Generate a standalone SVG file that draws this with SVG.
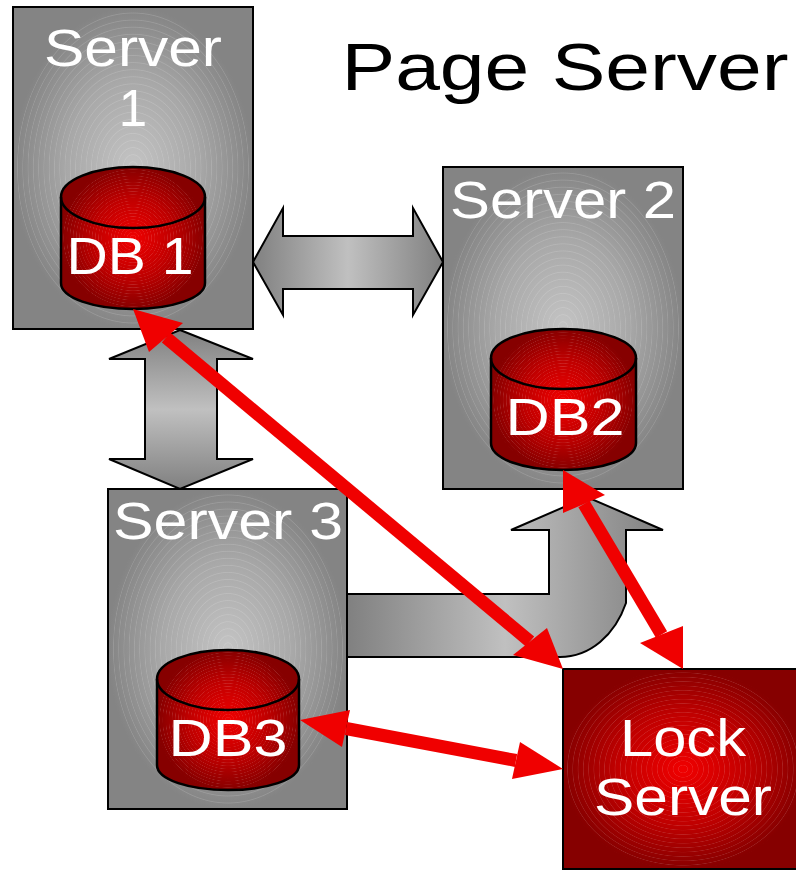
<svg xmlns="http://www.w3.org/2000/svg" width="796" height="870" viewBox="0 0 796 870">
<style>
text{font-family:"Liberation Sans",Arial,sans-serif;fill:#fff;text-anchor:middle;font-size:51px}
#title{fill:#000;font-size:66px}
.box,.arrow{stroke:#000;stroke-width:2}
.box{fill:url(#grayBox)}
.lock{fill:url(#redBox)}
.cyl{fill:url(#redBox);stroke:#000;stroke-width:2.5}
.rings{fill:url(#rings);stroke:none}
.lid{fill:none;stroke:#000;stroke-width:2.5}
.red{stroke:#f00000;stroke-width:13;fill:none}
.head{fill:#f00000}
</style>
<defs>
<radialGradient id="grayBox"><stop offset="0" stop-color="#c4c4c4"/><stop offset=".55" stop-color="#a8a8a8"/><stop offset="1" stop-color="#848484"/></radialGradient>
<radialGradient id="redBox"><stop offset="0" stop-color="#f00000"/><stop offset=".55" stop-color="#c00000"/><stop offset="1" stop-color="#860000"/></radialGradient>
<radialGradient id="rings" r=".022" spreadMethod="repeat"><stop offset=".75" stop-color="#fff" stop-opacity="0"/><stop offset=".88" stop-color="#fff" stop-opacity=".14"/><stop offset="1" stop-color="#fff" stop-opacity="0"/></radialGradient>
<linearGradient id="hArrow"><stop offset="0" stop-color="#808080"/><stop offset=".5" stop-color="#c0c0c0"/><stop offset="1" stop-color="#808080"/></linearGradient>
<linearGradient id="vArrow" x1="0" y1="0" x2="0" y2="1"><stop offset="0" stop-color="#808080"/><stop offset=".5" stop-color="#c0c0c0"/><stop offset="1" stop-color="#808080"/></linearGradient>
</defs>

<g id="server1">
<rect class="box" x="13" y="7" width="240" height="322"/><ellipse class="rings" cx="133" cy="168" rx="120" ry="161"/>
<text x="133" y="66" textLength="178" lengthAdjust="spacingAndGlyphs">Server</text>
<text x="133" y="126">1</text>
</g>
<g id="db1">
<path class="cyl" d="M61 197C61 180 94 167 133 167S205 180 205 197V283C205 298 172 309 133 309S61 298 61 283Z"/>
<ellipse class="rings" cx="133" cy="238" rx="72" ry="71"/>
<path class="lid" d="M61 197C61 214 94 228 133 228S205 214 205 197"/>
<text x="130" y="274" textLength="127" lengthAdjust="spacingAndGlyphs">DB 1</text>
</g>

<g id="server2">
<rect class="box" x="443" y="167" width="240" height="322"/><ellipse class="rings" cx="563" cy="328" rx="120" ry="161"/>
<text x="563" y="218" textLength="226" lengthAdjust="spacingAndGlyphs">Server 2</text>
</g>
<g id="db2">
<path class="cyl" d="M491 358C491 341 524 329 563 329S636 341 636 358V443C636 459 602 470 563 470S491 459 491 443Z"/>
<ellipse class="rings" cx="563" cy="400" rx="72" ry="70"/>
<path class="lid" d="M491 358C491 375 524 389 563 389S636 375 636 358"/>
<text x="565" y="435" textLength="119" lengthAdjust="spacingAndGlyphs">DB2</text>
</g>

<g id="server3">
<rect class="box" x="108" y="489" width="239" height="320"/><ellipse class="rings" cx="228" cy="649" rx="119" ry="160"/>
<text x="228" y="539" textLength="230" lengthAdjust="spacingAndGlyphs">Server 3</text>
</g>
<g id="db3">
<path class="cyl" d="M157 679C157 662 190 650 228 650S299 662 299 679V765C299 780 266 790 228 790S157 780 157 765Z"/>
<ellipse class="rings" cx="228" cy="720" rx="71" ry="70"/>
<path class="lid" d="M157 679C157 696 190 710 228 710S299 696 299 679"/>
<text x="228" y="756" textLength="119" lengthAdjust="spacingAndGlyphs">DB3</text>
</g>

<g id="lockServer">
<rect class="box lock" x="563" y="669" width="240" height="200"/><ellipse class="rings" cx="683" cy="769" rx="120" ry="100"/>
<text x="683" y="756" textLength="126" lengthAdjust="spacingAndGlyphs">Lock</text>
<text x="683" y="815" textLength="178" lengthAdjust="spacingAndGlyphs">Server</text>
</g>

<text id="title" x="565" y="90" textLength="447" lengthAdjust="spacingAndGlyphs">Page Server</text>

<g id="connectors">
<path class="arrow" fill="url(#hArrow)" d="M253 262L283 208V236H413V208L443 262L413 315V289H283V315Z"/>
<path class="arrow" fill="url(#vArrow)" d="M180 330L253 359H217V459H253L180 489L109 459H145V359H109Z"/>
<path class="arrow" fill="url(#hArrow)" d="M347 594H549V530H511L587 497L663 530H626V603C615 635 590 657 560 657H347Z"/>
<path class="red" d="M166 337.5L530 641.5"/>
<polygon class="head" points="133,309 183,323 149,352"/>
<polygon class="head" points="563,669 547,628 513,655"/>
<path class="red" d="M584 504L661.5 634.5"/>
<polygon class="head" points="563,470 605,495 563,513"/>
<polygon class="head" points="683,669 640,643 683,626"/>
<path class="red" d="M346 728.5L516 760.5"/>
<polygon class="head" points="300,720 350,710 342,747"/>
<polygon class="head" points="563,769 520,742 512,779"/>
</g>
</svg>
